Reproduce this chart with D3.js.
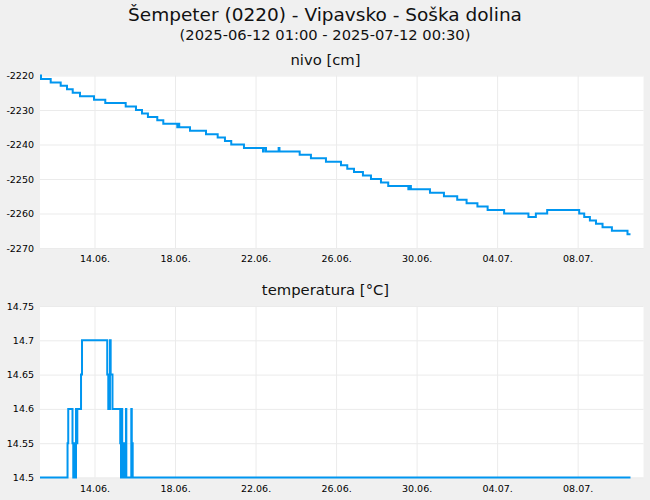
<!DOCTYPE html>
<html>
<head>
<meta charset="utf-8">
<script src="https://cdn.jsdelivr.net/npm/d3@7"></script>
<style>
  html, body { margin: 0; padding: 0; background: #f0f0f0; }
  svg { display: block; font-family: "DejaVu Sans", sans-serif; }
</style>
</head>
<body>
<svg id="chart" width="650" height="500"></svg>
<script>
// ---- data ----
const titleText = "Šempeter (0220) - Vipavsko - Soška dolina";
const subtitleText = "(2025-06-12 01:00 - 2025-07-12 00:30)";
const panelTitles = ["nivo [cm]", "temperatura [°C]"];

const xDomain = ["2025-06-11T07:00", "2025-07-11T06:30"];
const xTickDates = ["2025-06-14", "2025-06-18", "2025-06-22", "2025-06-26", "2025-06-30", "2025-07-04", "2025-07-08"];
const xTickLabels = ["14.06.", "18.06.", "22.06.", "26.06.", "30.06.", "04.07.", "08.07."];

const nivoTicks = [-2270, -2260, -2250, -2240, -2230, -2220];
const tempTicks = [14.5, 14.55, 14.6, 14.65, 14.7, 14.75];

// water level (step changes)
const nivoTimes = [
  "2025-06-11T07:00", "2025-06-11T08:10", "2025-06-11T19:45", "2025-06-12T07:40", "2025-06-12T15:10",
  "2025-06-12T22:00", "2025-06-13T06:40", "2025-06-13T23:25", "2025-06-14T12:50", "2025-06-15T13:10",
  "2025-06-16T01:25", "2025-06-16T08:35", "2025-06-16T15:40", "2025-06-17T02:50", "2025-06-17T10:00",
  "2025-06-18T02:40", "2025-06-18T03:40", "2025-06-18T05:00", "2025-06-18T17:50", "2025-06-19T12:55",
  "2025-06-20T02:50", "2025-06-20T11:30", "2025-06-20T19:00", "2025-06-21T10:10", "2025-06-22T08:50",
  "2025-06-22T09:50", "2025-06-22T12:25", "2025-06-23T03:30", "2025-06-23T04:30", "2025-06-24T04:35",
  "2025-06-24T18:00", "2025-06-25T11:55", "2025-06-26T05:50", "2025-06-26T13:20", "2025-06-26T21:20",
  "2025-06-27T08:00", "2025-06-27T17:35", "2025-06-28T05:30", "2025-06-28T14:10", "2025-06-29T14:10",
  "2025-06-29T15:10", "2025-06-29T17:10", "2025-06-30T15:55", "2025-07-01T08:35", "2025-07-02T00:25",
  "2025-07-02T11:35", "2025-07-03T00:30", "2025-07-03T12:40", "2025-07-04T08:20", "2025-07-05T13:20",
  "2025-07-05T22:10", "2025-07-06T11:40", "2025-07-08T01:50", "2025-07-08T07:50", "2025-07-08T14:35",
  "2025-07-08T21:50", "2025-07-09T05:40", "2025-07-09T16:50", "2025-07-10T11:25", "2025-07-10T15:00"
];
const nivoValues = [
  -2220, -2221, -2222, -2223, -2224,
  -2225, -2226, -2227, -2228, -2229,
  -2230, -2231, -2232, -2233, -2234,
  -2235, -2234, -2235, -2236, -2237,
  -2238, -2239, -2240, -2241, -2242,
  -2241, -2242, -2241, -2242, -2243,
  -2244, -2245, -2246, -2247, -2248,
  -2249, -2250, -2251, -2252, -2253,
  -2252, -2253, -2254, -2255, -2256,
  -2257, -2258, -2259, -2260, -2261,
  -2260, -2259, -2260, -2261, -2262,
  -2263, -2264, -2265, -2266, -2266
];

// water temperature (step changes)
const tempTimes = [
  "2025-06-11T07:00", "2025-06-12T15:50", "2025-06-12T16:40", "2025-06-12T21:45", "2025-06-12T22:40",
  "2025-06-12T23:55", "2025-06-13T00:30", "2025-06-13T01:55", "2025-06-13T02:30", "2025-06-13T03:30",
  "2025-06-13T07:55", "2025-06-13T09:05", "2025-06-14T15:10", "2025-06-14T16:25", "2025-06-14T18:25",
  "2025-06-14T19:15", "2025-06-14T21:25", "2025-06-15T06:40", "2025-06-15T07:35", "2025-06-15T08:25",
  "2025-06-15T09:00", "2025-06-15T10:30", "2025-06-15T11:30", "2025-06-15T12:20", "2025-06-15T13:30",
  "2025-06-15T13:55", "2025-06-15T19:50", "2025-06-15T20:25", "2025-06-15T21:30", "2025-07-10T15:00"
];
const tempValues = [
  14.5, 14.55, 14.6, 14.55, 14.5,
  14.55, 14.5, 14.6, 14.55, 14.6,
  14.65, 14.7, 14.65, 14.6, 14.7,
  14.65, 14.6, 14.55, 14.5, 14.6,
  14.55, 14.5, 14.55, 14.5, 14.6,
  14.5, 14.6, 14.55, 14.5, 14.5
];

// ---- drawing ----
const parse = s => new Date(s + ":00Z");
const svg = d3.select("#chart");
const W = 650;
const left = 40, right = 643.5;
const lineColor = "#0096f0";
const gridColor = "#ebebeb";

svg.append("rect").attr("width", 650).attr("height", 500).attr("fill", "#f0f0f0");

svg.append("text").attr("x", W / 2).attr("y", 21).attr("text-anchor", "middle")
  .attr("font-size", "18.5px").attr("fill", "#111").text(titleText);
svg.append("text").attr("x", W / 2).attr("y", 39.5).attr("text-anchor", "middle")
  .attr("font-size", "14.7px").attr("fill", "#111").text(subtitleText);

const x = d3.scaleUtc().domain(xDomain.map(parse)).range([left, right]);

function panel(cfg) {
  const { top, bottom, yDomain, ticks, fmt, times, values, title, titleY, labelY } = cfg;
  const y = d3.scaleLinear().domain(yDomain).range([bottom, top]);
  const g = svg.append("g");
  g.append("rect").attr("x", left).attr("y", top).attr("width", right - left)
    .attr("height", bottom - top).attr("fill", "#fff");

  g.append("text").attr("x", W / 2 + 0.5).attr("y", titleY).attr("text-anchor", "middle")
    .attr("font-size", "14.8px").attr("fill", "#111").text(title);

  // grid lines via axes
  const gx = g.append("g").attr("transform", `translate(0,${bottom})`)
    .call(d3.axisBottom(x).tickValues(xTickDates.map(s => parse(s + "T00:00")))
      .tickSize(-(bottom - top)).tickFormat((d, i) => xTickLabels[i]));
  gx.select(".domain").remove();
  gx.selectAll(".tick line").attr("stroke", gridColor);
  gx.selectAll(".tick text").attr("y", labelY - bottom).attr("dy", 0)
    .attr("font-size", "9.5px").attr("font-family", "DejaVu Sans").attr("fill", "#000");

  const gy = g.append("g").attr("transform", `translate(${left},0)`)
    .call(d3.axisLeft(y).tickValues(ticks).tickSize(-(right - left)).tickPadding(6).tickFormat(fmt));
  gy.select(".domain").remove();
  gy.selectAll(".tick line").attr("stroke", gridColor);
  gy.selectAll(".tick text").attr("font-size", "9.5px").attr("font-family", "DejaVu Sans").attr("fill", "#000");

  const data = times.map((t, i) => ({ t: parse(t), v: values[i] }));
  const line = d3.line().curve(d3.curveStepAfter).x(d => x(d.t)).y(d => y(d.v));
  g.append("path").datum(data).attr("d", line).attr("fill", "none")
    .attr("stroke", lineColor).attr("stroke-width", 2);
}

panel({
  top: 75.5, bottom: 248, yDomain: [-2270, -2220], ticks: nivoTicks, fmt: d => String(d),
  times: nivoTimes, values: nivoValues, title: panelTitles[0], titleY: 64.5, labelY: 261.5
});
panel({
  top: 306, bottom: 477.5, yDomain: [14.5, 14.75], ticks: tempTicks, fmt: d => String(+d.toFixed(2)),
  times: tempTimes, values: tempValues, title: panelTitles[1], titleY: 295, labelY: 491.5
});
</script>
</body>
</html>
